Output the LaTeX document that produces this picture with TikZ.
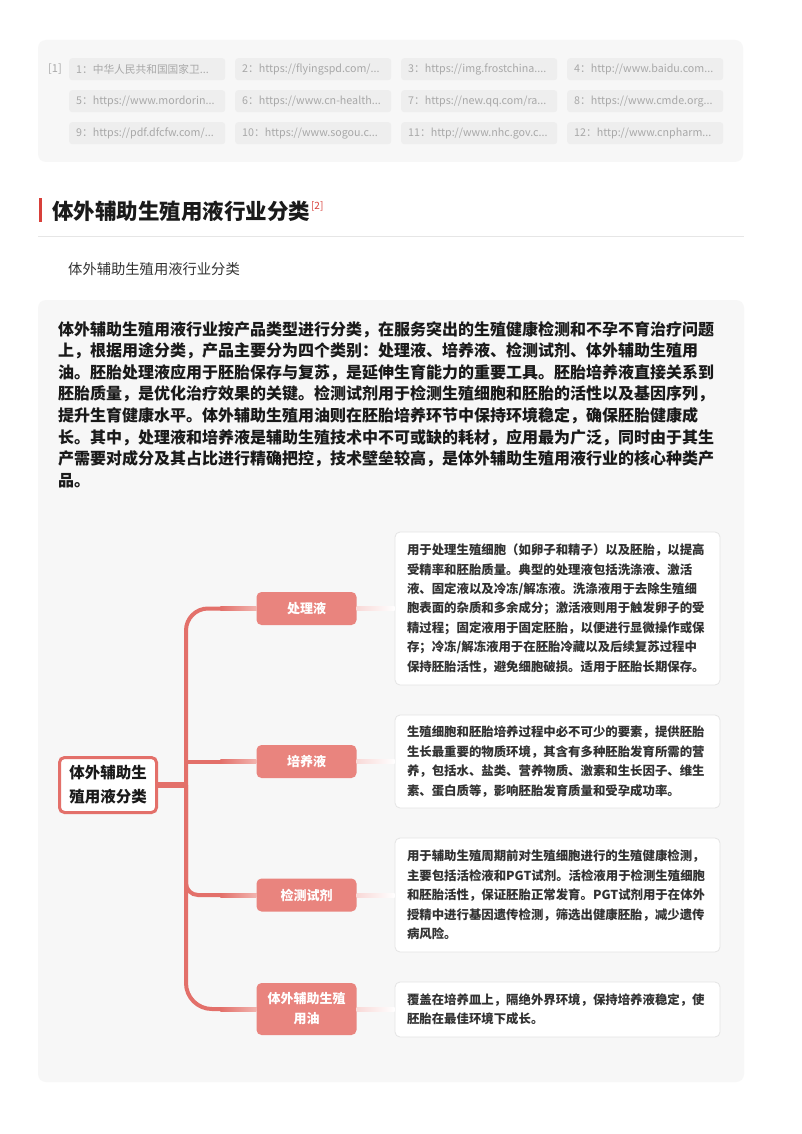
\documentclass[tikz,border=0pt]{standalone}
\usepackage{fontspec}
\setmainfont{Noto Sans CJK SC}
\usetikzlibrary{calc}
\definecolor{page}{HTML}{FFFFFF}
\definecolor{panel}{HTML}{F7F7F7}
\definecolor{chipbg}{HTML}{EEEEEE}
\definecolor{chiptext}{HTML}{A8A8A8}
\definecolor{ink}{HTML}{1A1A1A}
\definecolor{body}{HTML}{333333}
\definecolor{accent}{HTML}{D8403A}
\definecolor{stemred}{HTML}{E3706A}
\definecolor{catfill}{HTML}{E9847E}
\definecolor{stemlight}{HTML}{F2B4AF}
\definecolor{fadepink}{HTML}{F8D9D7}
\definecolor{rule}{HTML}{E6E6E6}
\definecolor{descline}{HTML}{E4E4E4}
\newcommand\more{...}
\tikzset{
  chip/.style={anchor=north west, fill=chipbg, rounded corners=3pt, inner xsep=7pt, inner ysep=0pt,
    text width=142pt, minimum height=22pt, align=left, text=chiptext, font=\fontsize{10.7}{13}\selectfont},
  rootbox/.style={draw=stemred, line width=3pt, fill=white, rounded corners=5pt, minimum width=97pt,
    minimum height=55pt, align=center, text=ink, font=\bfseries\fontsize{15.5}{24}\selectfont},
  catbox/.style={fill=catfill, rounded corners=5pt, minimum width=100pt, minimum height=33pt,
    inner sep=0pt, align=center, text=white, font=\bfseries\fontsize{13}{20}\selectfont},
  descbox/.style={draw=descline, line width=0.8pt, fill=white, rounded corners=5pt, minimum width=325pt,
    text width=301pt, inner xsep=12pt, align=left, text=body, font=\bfseries\fontsize{12.4}{19.4}\selectfont},
  stem/.style={draw=stemred, line width=4pt},
}
\begin{document}
\begin{tikzpicture}[x=1pt,y=-1pt]
  \useasboundingbox (0,0) rectangle (802,1134);
  \fill[page] (0,0) rectangle (802,1134);
  % reference chips
  \fill[panel, rounded corners=8pt] (38,40) rectangle (743,162);
  \node[text=chiptext, font=\fontsize{11}{13}\selectfont] (refmark) at (55,69) {[1]};
  \foreach \lbl [count=\k from 0] in {1：中华人民共和国国家卫\more,2：https://flyingspd.com/\more,
      3：https://img.frostchina.\more,4：http://www.baidu.com\more,5：https://www.mordorin\more,
      6：https://www.cn-health\more,7：https://new.qq.com/ra\more,8：https://www.cmde.org\more,
      9：https://pdf.dfcfw.com/\more,10：https://www.sogou.c\more,11：http://www.nhc.gov.c\more,
      12：http://www.cnpharm\more}{
    \pgfmathtruncatemacro\col{mod(\k,4)}
    \pgfmathtruncatemacro\row{\k/4}
    \node[chip] (ref\k) at (69+166*\col,58+32*\row) {\mbox{\lbl}};
  }
  % heading
  \fill[accent] (39,198) rectangle (42,222);
  \node[anchor=west, inner sep=0pt, text=ink, font=\bfseries\fontsize{21.5}{24}\selectfont] (title) at (52,211) {体外辅助生殖用液行业分类};
  \node[anchor=west, inner sep=0pt, text=accent, font=\fontsize{10}{12}\selectfont] (titleref) at ($(title.east)+(0.5,-5)$) {[2]};
  \draw[rule, line width=1pt] (38,236) -- (744,236);
  \node[anchor=west, inner sep=0pt, text=body, font=\fontsize{14.3}{16}\selectfont] (subtitle) at (68,269) {体外辅助生殖用液行业分类};
  % main panel
  \fill[panel, rounded corners=8pt] (38,300) rectangle (744,1082);
  \node[anchor=north west, inner sep=0pt, align=left, text=ink, font=\bfseries\fontsize{16}{21.6}\selectfont] (intro) at (58,321) {%
    体外辅助生殖用液行业按产品类型进行分类，在服务突出的生殖健康检测和不孕不育治疗问题\\
    上，根据用途分类，产品主要分为四个类别：处理液、培养液、检测试剂、体外辅助生殖用\\
    油。胚胎处理液应用于胚胎保存与复苏，是延伸生育能力的重要工具。胚胎培养液直接关系到\\
    胚胎质量，是优化治疗效果的关键。检测试剂用于检测生殖细胞和胚胎的活性以及基因序列，\\
    提升生育健康水平。体外辅助生殖用油则在胚胎培养环节中保持环境稳定，确保胚胎健康成\\
    长。其中，处理液和培养液是辅助生殖技术中不可或缺的耗材，应用最为广泛，同时由于其生\\
    产需要对成分及其占比进行精确把控，技术壁垒较高，是体外辅助生殖用液行业的核心种类产\\
    品。};
  % mind map
  \node[rootbox] (root) at (108,785) {体外辅助生\\殖用液分类};
  \node[catbox] (cat1) at (306.5,608.5) {处理液};
  \node[catbox] (cat2) at (306.5,761.5) {培养液};
  \node[catbox] (cat3) at (306.5,895) {检测试剂};
  \node[catbox, minimum height=52pt] (cat4) at (306.5,1009) {体外辅助生殖\\用油};
  \node[descbox, minimum height=153pt] (desc1) at (557.5,608.5) {%
    用于处理生殖细胞（如卵子和精子）以及胚胎，以提高\\
    受精率和胚胎质量。典型的处理液包括洗涤液、激活\\
    液、固定液以及冷冻/解冻液。洗涤液用于去除生殖细\\
    胞表面的杂质和多余成分；激活液则用于触发卵子的受\\
    精过程；固定液用于固定胚胎，以便进行显微操作或保\\
    存；冷冻/解冻液用于在胚胎冷藏以及后续复苏过程中\\
    保持胚胎活性，避免细胞破损。适用于胚胎长期保存。};
  \node[descbox, minimum height=93pt] (desc2) at (557.5,761.5) {%
    生殖细胞和胚胎培养过程中必不可少的要素，提供胚胎\\
    生长最重要的物质环境，其含有多种胚胎发育所需的营\\
    养，包括水、盐类、营养物质、激素和生长因子、维生\\
    素、蛋白质等，影响胚胎发育质量和受孕成功率。};
  \node[descbox, minimum height=114pt] (desc3) at (557.5,895) {%
    用于辅助生殖周期前对生殖细胞进行的生殖健康检测，\\
    主要包括活检液和PGT试剂。活检液用于检测生殖细胞\\
    和胚胎活性，保证胚胎正常发育。PGT试剂用于在体外\\
    授精中进行基因遗传检测，筛选出健康胚胎，减少遗传\\
    病风险。};
  \node[descbox, minimum height=55pt] (desc4) at (557.5,1009.5) {%
    覆盖在培养皿上，隔绝外界环境，保持培养液稳定，使\\
    胚胎在最佳环境下成长。};
  % connectors
  \coordinate (hub) at (186,785);
  \draw[stem, rounded corners=22pt] (hub) |- (cat1.west);
  \draw[stem] (hub |- cat2.west) -- (cat2.west);
  \draw[stem, rounded corners=12pt] (hub) |- (cat3.west);
  \draw[stem, rounded corners=26pt] (hub) |- (cat4.west);
  \draw[stem, line width=6pt] (root.east) -- (hub);
  \foreach \n in {1,2,3,4}{
    \shade[left color=stemred, right color=stemlight] ($(cat\n.west)+(-36,-2)$) rectangle ($(cat\n.west)+(0,2)$);
    \shade[left color=fadepink, right color=white] ($(cat\n.east)+(0,-2)$) rectangle ($(desc\n.west)+(0,2)$);
  }
\end{tikzpicture}
\end{document}
